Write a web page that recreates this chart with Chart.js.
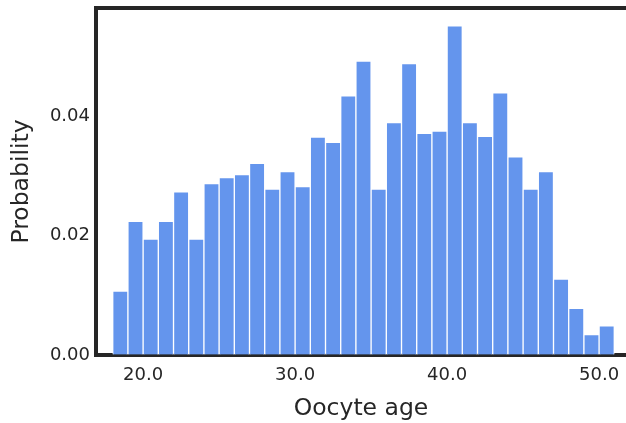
<!DOCTYPE html>
<html>
<head>
<meta charset="utf-8">
<script src="https://cdn.jsdelivr.net/npm/chart.js@4"></script>
<style>
  html, body { margin: 0; padding: 0; background: #fff; }
  #box { width: 626px; height: 423px; }
</style>
</head>
<body>
<div id="box"><canvas id="grafico"></canvas></div>
<script>
// histogram bins (centre of each 1-year bin) =================================
const binCenters = [
  18.5, 19.5, 20.5, 21.5, 22.5, 23.5, 24.5, 25.5, 26.5, 27.5, 28.5,
  29.5, 30.5, 31.5, 32.5, 33.5, 34.5, 35.5, 36.5, 37.5, 38.5, 39.5,
  40.5, 41.5, 42.5, 43.5, 44.5, 45.5, 46.5, 47.5, 48.5, 49.5, 50.5,
];

// probability per bin
const probabilities = [
  0.0107, 0.0224, 0.0194, 0.0224, 0.0273, 0.0194, 0.0287, 0.0297, 0.0302, 0.0321, 0.0278,
  0.0307, 0.0282, 0.0365, 0.0356, 0.0434, 0.0492, 0.0278, 0.0389, 0.0488, 0.0371, 0.0375,
  0.0551, 0.0389, 0.0366, 0.0439, 0.0332, 0.0278, 0.0307, 0.0127, 0.0078, 0.0034, 0.0049,
];

const xTicks = [20, 30, 40, 50];
const yTicks = [0, 0.02, 0.04];

const ink = "#262626";
const font = "'DejaVu Sans', sans-serif";

// ==========================================================================

const dataHist = {
  datasets: [
    {
      label: "Oocyte age",
      data: binCenters.map((x, i) => ({ x: x, y: probabilities[i] })),
      backgroundColor: "#6495ED",
      borderColor: "#ffffff",
      borderWidth: 1,
      barPercentage: 1,
      categoryPercentage: 1,
      grouped: false,
    },
  ],
};

const configHist = {
  type: "bar",
  data: dataHist,
  options: {
    responsive: true,
    maintainAspectRatio: false,
    animation: false,
    layout: { padding: 0, autoPadding: false },
    plugins: { legend: { display: false }, tooltip: { enabled: false } },
    scales: {
      x: {
        type: "linear",
        position: "bottom",
        offset: false,
        bounds: "data",
        min: 16.9,
        max: 51.77,
        afterBuildTicks: (s) => { s.ticks = xTicks.map((v) => ({ value: v })); },
        afterFit: (s) => { s.height = 68; s.paddingLeft = 0; s.paddingRight = 0; },
        grid: { offset: false, drawOnChartArea: false, drawTicks: false, color: "transparent" },
        border: { display: true, color: ink, width: 4 },
        ticks: {
          color: ink,
          padding: 10,
          font: { family: font, size: 18 },
          callback: (v) => Number(v).toFixed(1),
        },
        title: {
          display: true,
          text: "Oocyte age",
          color: ink,
          font: { family: font, size: 23.5 },
          padding: 0,
        },
      },
      // top spine only
      x2: {
        type: "linear",
        position: "top",
        offset: false,
        bounds: "data",
        min: 16.9,
        max: 51.77,
        afterFit: (s) => { s.height = 8; s.paddingLeft = 0; s.paddingRight = 0; },
        grid: { offset: false, drawOnChartArea: false, drawTicks: false, color: "transparent" },
        border: { display: true, color: ink, width: 4 },
        ticks: { display: false, padding: 0 },
      },
      y: {
        min: 0,
        max: 0.0581,
        afterBuildTicks: (s) => { s.ticks = yTicks.map((v) => ({ value: v })); },
        afterFit: (s) => { s.width = 96; s.paddingTop = 0; s.paddingBottom = 0; },
        grid: { drawOnChartArea: false, drawTicks: false, color: "transparent" },
        border: { display: true, color: ink, width: 4 },
        ticks: {
          color: ink,
          padding: 6,
          font: { family: font, size: 18 },
          callback: (v) => Number(v).toFixed(2),
        },
        title: {
          display: true,
          text: "Probability",
          color: ink,
          font: { family: font, size: 23.5 },
          padding: { top: 8, bottom: 0 },
        },
      },
    },
  },
};

const grafico = new Chart(document.getElementById("grafico"), configHist);
</script>
</body>
</html>
